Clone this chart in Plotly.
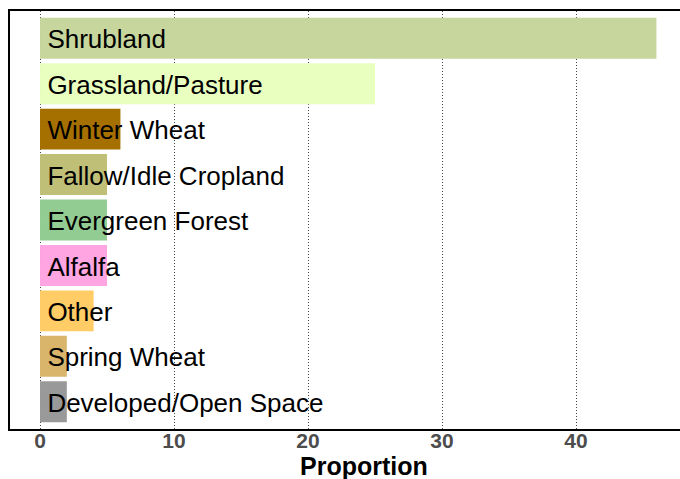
import plotly.graph_objects as go

categories = ["Shrubland", "Grassland/Pasture", "Winter Wheat", "Fallow/Idle Cropland",
              "Evergreen Forest", "Alfalfa", "Other", "Spring Wheat", "Developed/Open Space"]
proportion = [46, 25, 6, 5, 5, 5, 4, 2, 2]
colors = ["#C6D69C", "#E8FFBF", "#A57000", "#BFBF77", "#93CC93",
          "#FFA5E2", "#FFCC66", "#D8B56B", "#999999"]
label_x = [0.55] * len(categories)
x_ticks = [0, 10, 20, 30, 40]
x_title = "Proportion"

FONT = "Liberation Sans, Arial, sans-serif"
y_range = [-0.6, 8.6]
text_drop = 0.08  # shift label baseline slightly down (category units)

fig = go.Figure()
fig.add_trace(go.Bar(
    x=proportion, y=categories, orientation="h",
    marker=dict(color=colors, line=dict(width=0)),
    width=0.9, showlegend=False, hoverinfo="skip",
))
fig.add_trace(go.Scatter(
    x=label_x, y=categories, mode="text", text=categories, yaxis="y2",
    textposition="middle right",
    textfont=dict(family=FONT, size=26, color="black"),
    showlegend=False, hoverinfo="skip",
))

fig.update_layout(
    width=680, height=479,
    margin=dict(l=10, r=0, t=11, b=50, autoexpand=False),
    plot_bgcolor="white", paper_bgcolor="white",
    xaxis=dict(
        range=[-2.24, 47.76], tickvals=x_ticks, ticktext=[str(v) for v in x_ticks],
        showgrid=True, gridcolor="#444444", griddash="1px,2px", gridwidth=1,
        zeroline=False, showline=True, linecolor="black", linewidth=1.5, mirror=True,
        ticks="", automargin=False, ticklabelstandoff=-8,
        tickfont=dict(family=FONT, size=21, color="#4D4D4D", weight="bold"),
    ),
    yaxis=dict(
        type="category", categoryorder="array", categoryarray=categories[::-1],
        range=y_range, showticklabels=False, showgrid=False, zeroline=False,
        showline=True, linecolor="black", linewidth=1.5, ticks="", automargin=False,
    ),
    yaxis2=dict(
        type="category", categoryorder="array", categoryarray=categories[::-1],
        range=[y_range[0] + text_drop, y_range[1] + text_drop], overlaying="y",
        showticklabels=False, showgrid=False, zeroline=False, showline=False,
        ticks="", automargin=False,
    ),
    annotations=[dict(
        text=x_title, xref="x", yref="paper", x=(x_ticks[2] + x_ticks[3]) / 2 - 0.8,
        y=0, yanchor="middle", yshift=-37, showarrow=False,
        font=dict(family=FONT, size=25, color="black", weight="bold"),
    )],
)

fig.write_html("out.html", config={"displayModeBar": False},
               post_script="document.body.style.margin='0';document.body.style.overflow='hidden';")
